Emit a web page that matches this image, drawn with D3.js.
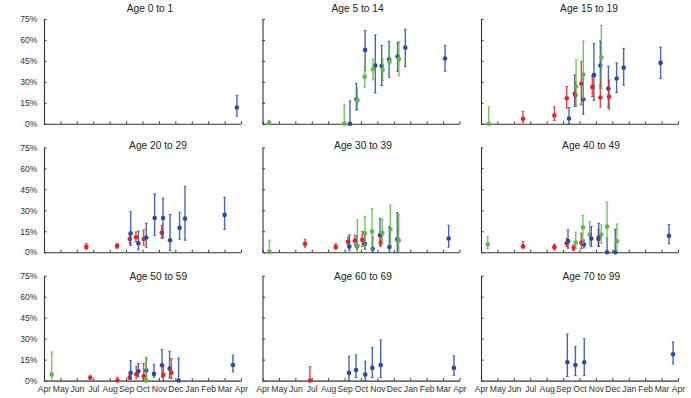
<!DOCTYPE html>
<html><head><meta charset="utf-8">
<script src="https://cdn.jsdelivr.net/npm/d3@7"></script>
<style>body{margin:0;background:#fff}svg{display:block}</style>
</head><body>
<script>
// ---- data ----
const monthLabels = ["Apr","May","Jun","Jul","Aug","Sep","Oct","Nov","Dec","Jan","Feb","Mar","Apr"];
const yTickValues = [0, 15, 30, 45, 60, 75];
const panelTitles = ["Age 0 to 1","Age 5 to 14","Age 15 to 19","Age 20 to 29","Age 30 to 39","Age 40 to 49","Age 50 to 59","Age 60 to 69","Age 70 to 99"];
const seriesKeys = ["r","g","b"];
const seriesColors = ["#e5242a","#5cb848","#2d4b9e"];
// point rows: [months after 1 Apr, estimate %, lower %, upper %, series]
const age0to1 = [[11.75,11.7,5.5,20.2,"b"]];
const age5to14 = [
 [0.4,0.5,0,2.4,"g"],[4.98,0,0,14,"g"],[5.33,0,0,16.4,"b"],[5.72,17.6,10,29,"b"],[5.78,16.9,9.5,25.7,"g"],
 [6.25,52.9,38,66.7,"b"],[6.22,33.6,26.2,41.4,"g"],[6.87,41.7,22.1,63.6,"b"],[6.73,39,31.4,46.4,"g"],
 [7.26,41.4,27.4,56,"b"],[7.32,38.6,31,46.2,"g"],[7.71,46.2,33.3,59,"b"],[7.73,44.3,33.3,55.5,"g"],
 [8.23,48.1,37.4,58.1,"b"],[8.31,46.4,34.3,58.8,"g"],[8.7,54.5,41,67.6,"b"],[11.12,46.7,37.6,56.2,"b"]];
const age15to19 = [
 [0.47,0,0,12.1,"g"],[2.56,3.6,1,8.8,"r"],[4.47,6,2.4,12.1,"r"],[5.22,18.3,11.2,26.7,"r"],
 [5.36,3.8,0,11.7,"b"],[5.71,21.4,12.4,35,"b"],[5.75,20.5,13.6,29.5,"r"],[5.79,26.7,12.4,45.7,"g"],
 [6.11,28.8,13.6,44.5,"r"],[6.23,17.6,6.9,32.1,"b"],[6.23,35.2,18.1,59.3,"g"],[6.78,26.4,19.5,34.3,"r"],
 [6.88,34.8,16.7,57.4,"b"],[7.27,41.7,25.5,59.3,"b"],[7.27,18.8,11.9,27.9,"r"],[7.33,47.6,25.5,70.5,"g"],
 [7.76,25.2,11.9,41.2,"b"],[7.8,19.3,10.5,31.4,"r"],[8.26,32.4,22.4,43.6,"b"],[8.69,40.2,27.6,54,"b"],
 [10.94,43.6,32.4,54.8,"b"]];
const age20to29 = [
 [2.58,3.8,2.1,6.4,"r"],[4.45,4.5,2.6,6.4,"r"],[5.22,9.5,6,12.6,"r"],[5.28,13.6,4.8,29,"b"],
 [5.6,10.7,7.4,14.5,"r"],[5.75,6.4,1.7,15.2,"b"],[6.07,9.5,5,16,"r"],[6.23,10.5,3.6,20.7,"b"],
 [6.74,24.5,11.9,41.7,"b"],[7.17,14,9.8,19.3,"r"],[7.25,24.5,10.5,38.6,"b"],[7.68,8.6,1.2,27.1,"b"],
 [8.26,17.4,9.3,28.6,"b"],[8.59,24,8.6,47.1,"b"],[11,26.7,16.4,39.3,"b"]];
const age30to39 = [
 [0.42,0.2,0,8.6,"g"],[2.59,6,3.6,9.3,"r"],[4.46,3.8,2.1,6,"r"],[5.21,7.4,4.8,10.7,"r"],
 [5.29,4,1,12.4,"b"],[5.63,8.3,5,12.1,"r"],[5.76,4.3,2.1,11.7,"b"],[5.78,4.8,0,23.1,"g"],
 [6.08,8.8,4,14.8,"r"],[6.24,6,2.1,11.7,"b"],[6.24,13.6,4,25.5,"g"],[6.71,2.4,0,10.7,"b"],
 [6.67,14.8,1.7,31.2,"g"],[7.16,12.1,5,24.3,"b"],[7.2,6.9,4,11.2,"r"],[7.3,13.8,6,23.6,"g"],
 [7.73,3.8,0,18.3,"b"],[7.79,16.4,5.2,33.8,"g"],[8.21,9,0,28.3,"b"],[8.3,8.6,1,27.1,"g"],
 [11.34,9.8,3.6,19.3,"b"]];
const age40to49 = [
 [0.41,5.7,2.4,11.2,"g"],[2.56,4.3,2.4,7.6,"r"],[4.47,3.6,1.7,5.7,"r"],[5.22,6.4,4,9.8,"r"],
 [5.3,7.9,2.9,16,"b"],[5.64,3.1,1.2,5.2,"r"],[5.77,6.9,2.4,14.3,"g"],[6.11,6.9,2.6,13.6,"r"],
 [6.27,5.5,3.1,8.8,"b"],[6.21,17.9,6.4,26.2,"g"],[6.62,12.6,5.2,21.9,"g"],[6.72,9.8,4,18.3,"b"],
 [7.15,9.5,4.5,16,"r"],[7.17,10.5,4,20.7,"b"],[7.33,12.6,6.4,19.5,"g"],[7.68,0,0,10,"b"],
 [7.68,18.3,7.1,35.7,"g"],[8.18,0,0,16.4,"b"],[8.28,7.9,1.2,20.2,"g"],[11.45,11.7,6,19.8,"b"]];
const age50to59 = [
 [0.47,4.3,0,20.5,"g"],[2.82,2.1,1,3.3,"r"],[4.47,0,0,2.4,"r"],[5.22,2.4,0.7,5,"r"],
 [5.28,5.5,1,14.3,"b"],[5.62,4.5,1.4,10.3,"r"],[5.75,6.7,2.6,12.2,"b"],[6.07,3.3,0.7,12.4,"r"],
 [6.23,7.2,1.4,15.8,"b"],[6.23,0,0,16.7,"g"],[6.7,4.8,2.4,11.7,"b"],[7.19,11,2.4,22.2,"b"],
 [7.27,4.1,0,9.8,"r"],[7.65,8.6,1.9,21,"b"],[7.76,5.7,1.4,15.8,"r"],[8.2,0,0,16.2,"b"],
 [11.51,11.2,6.2,18.2,"b"]];
const age60to69 = [
 [2.89,0,0,10,"r"],[5.27,5.5,0,17.4,"b"],[5.7,7.6,2.1,18.4,"b"],[6.26,4.3,0,13.9,"b"],
 [6.69,9.1,2.1,23.7,"b"],[7.2,11.2,2.1,29.1,"b"],[11.66,9.1,3.8,17.7,"b"]];
const age70to99 = [
 [5.26,13.1,2.9,33.4,"b"],[5.75,11.2,3.6,24.4,"b"],[6.29,13.1,3.6,29.9,"b"],[11.7,18.9,11.9,27.7,"b"]];
const panelData = [age0to1, age5to14, age15to19, age20to29, age30to39, age40to49, age50to59, age60to69, age70to99];

// ---- layout ----
const W = 691, H = 398;
const colX = [44, 262.5, 481], rowY = [19, 147.4, 275.8];
const pw = 197, ph = 104.8;
const titleBase = [12, 149.4, 279.6];
const titleDx = [106, 95, 108, 114, 100.5, 110, 114.3, 100.5, 110.3];
const axisColor = "#333";

const svg = d3.select("body").append("svg").attr("width", W).attr("height", H)
  .style("font-family", "'Liberation Sans', Arial, Helvetica, sans-serif");

const color = d3.scaleOrdinal().domain(seriesKeys).range(seriesColors);

panelData.forEach((data, i) => {
  const c = i % 3, r = Math.floor(i / 3);
  const g = svg.append("g").attr("transform", `translate(${colX[c]},${rowY[r]})`);
  const x = d3.scaleLinear().domain([0, 12]).range([0, pw]);
  const y = d3.scaleLinear().domain([0, 75]).range([ph, 0]);

  const xAxis = d3.axisBottom(x).tickValues(d3.range(13)).tickSizeInner(-2.5).tickSizeOuter(0)
    .tickPadding(4).tickFormat(r === 2 ? (d => monthLabels[d]) : () => "");
  const yAxis = d3.axisLeft(y).tickValues(yTickValues).tickSizeInner(-2.5).tickSizeOuter(0)
    .tickPadding(6.5).tickFormat(c === 0 ? (d => d + "%") : () => "");

  const gx = g.append("g").attr("transform", `translate(0,${ph})`).call(xAxis);
  const gy = g.append("g").call(yAxis);
  [gx, gy].forEach(a => {
    a.select(".domain").attr("stroke", axisColor).attr("stroke-width", 1.1);
    a.selectAll(".tick line").attr("stroke", axisColor).attr("stroke-width", 1);
    a.selectAll(".tick text").attr("fill", "#333").style("font-size", "8.6px");
  });
  gx.selectAll(".tick text").attr("dy", "0.9em");

  g.append("text").attr("x", titleDx[i]).attr("y", titleBase[r] - rowY[r])
    .attr("text-anchor", "middle").style("font-size", "10.2px").attr("fill", "#222")
    .text(panelTitles[i]);

  const pts = g.append("g").selectAll("g").data(data).join("g")
    .attr("stroke", d => color(d[4])).attr("fill", d => color(d[4]));
  pts.append("line")
    .attr("x1", d => x(d[0])).attr("x2", d => x(d[0]))
    .attr("y1", d => y(d[2])).attr("y2", d => y(d[3])).attr("stroke-width", 1.4).attr("stroke-opacity", 0.85);
  [2, 3].forEach(k => pts.append("line")
    .attr("x1", d => x(d[0]) - 1.3).attr("x2", d => x(d[0]) + 1.3)
    .attr("y1", d => y(d[k])).attr("y2", d => y(d[k])).attr("stroke-width", 1).attr("stroke-opacity", 0.85));
  pts.append("circle").attr("cx", d => x(d[0])).attr("cy", d => y(d[1])).attr("r", 2.3).attr("stroke", "none");
});
</script>
</body></html>
